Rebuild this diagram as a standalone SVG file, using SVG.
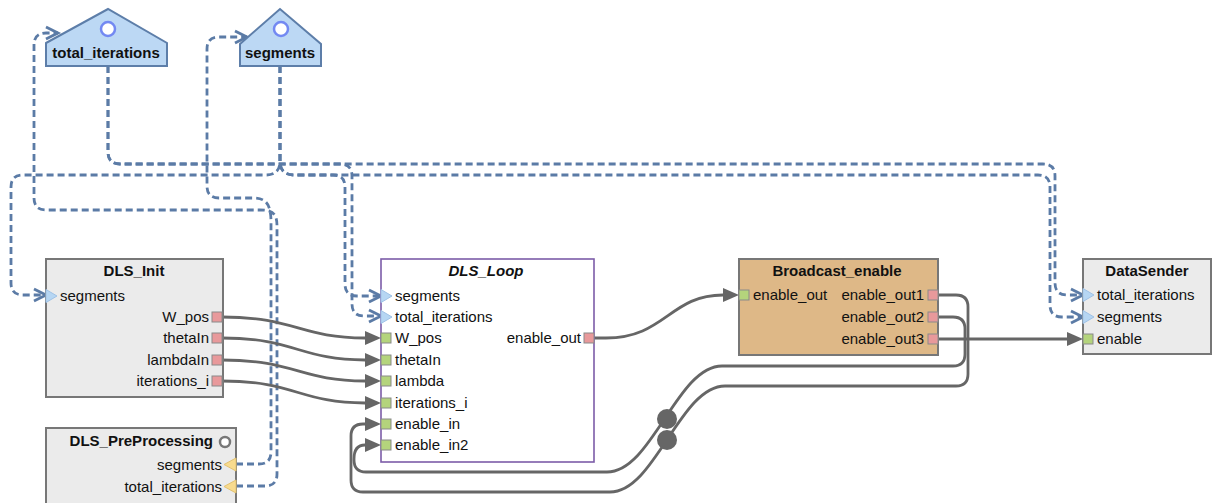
<svg xmlns="http://www.w3.org/2000/svg" width="1213" height="503" viewBox="0 0 1213 503">
<style>
text{font-family:"Liberation Sans",Arial,sans-serif;font-size:15px;fill:#111}
.title{font-weight:bold}
.box{fill:#ebebeb;stroke:#777;stroke-width:2}
.param{fill:#bcd8f4;stroke:#5d7ea9;stroke-width:2}
.pin{fill:#fff;stroke:#7389f2;stroke-width:2.5}
.dash{fill:none;stroke:#5b7ba6;stroke-width:2.8;stroke-dasharray:7 4;marker-end:url(#chev)}
.solid{fill:none;stroke:#666;stroke-width:2.8;marker-end:url(#tri)}
.ip{fill:#b4d47c;stroke:#8a8a8a;stroke-width:1}
.op{fill:#e8999b;stroke:#8a8a8a;stroke-width:1}
.tp{fill:#b6d6f3;stroke:#9fc2e6;stroke-width:1}
.yp{fill:#f8db8e;stroke:#e2c272;stroke-width:1}
.r{text-anchor:end}
.c{text-anchor:middle}
</style>
<defs>
<marker id="tri" markerUnits="userSpaceOnUse" markerWidth="17" markerHeight="15" refX="0" refY="7" orient="auto" overflow="visible">
<path d="M0,0 L16,7 L0,14 z" fill="#666"/>
</marker>
<marker id="chev" markerUnits="userSpaceOnUse" markerWidth="16" markerHeight="16" refX="13" refY="7" orient="auto" overflow="visible">
<path d="M1,1 L13,7 L1,13" fill="none" stroke="#5b7ba6" stroke-width="2.8" stroke-dasharray="none"/>
</marker>
</defs>

<g id="connectors">
<path class="dash" d="M108,66 V152 Q108,164 120,164 H340 Q352,164 352,176 V304 Q352,316 364,316 H381"/>
<path class="dash" d="M108,66 V152 Q108,164 120,164 H1043 Q1055,164 1055,176 V283 Q1055,295 1067,295 H1083"/>
<path class="dash" d="M280,66 V161 Q280,175 266,175 H23 Q11,175 11,187 V283 Q11,295 23,295 H46"/>
<path class="dash" d="M280,66 V161 Q280,175 294,175 H333 Q345,175 345,187 V284 Q345,296 357,296 H381"/>
<path class="dash" d="M280,66 V161 Q280,175 294,175 H1038 Q1050,175 1050,187 V305 Q1050,317 1062,317 H1083"/>
<path class="dash" d="M236,464 H259 Q271,464 271,452 V222 C271,206 267,198 254,198 H219 Q207,198 207,186 V49 Q207,37 219,37 H247"/>
<path class="dash" d="M236,486 H265 Q277,486 277,474 V226 C277,214 273,210 260,210 H46 Q34,210 34,198 V45 Q34,33 46,33 H58"/>

<path class="solid" d="M222,317 C295,317 300,338 365,338"/>
<path class="solid" d="M222,338 C295,338 300,360 365,360"/>
<path class="solid" d="M222,360 C295,360 300,381 365,381"/>
<path class="solid" d="M222,381 C295,381 300,403 365,403"/>
<path class="solid" d="M594,338 H606 C665,338 670,295 723,295"/>
<path class="solid" d="M938,339 H1067"/>
<path class="solid" d="M938,295 H956 Q968,295 968,307 V374 Q968,386 956,386 H725 C680,386 655,492 610,492 H363 Q351,492 351,480 V436 Q351,424 363,424 H365"/>
<path class="solid" d="M938,317 H953 Q965,317 965,329 V354 Q965,366 953,366 H722 C677,366 652,472 607,472 H366 Q354,472 354,460 V459 Q354,445 365,445"/>
<circle cx="667" cy="419" r="10" fill="#666"/>
<circle cx="667" cy="440" r="10" fill="#666"/>
</g>

<g id="param_total_iterations">
<path class="param" d="M46,43 L108,9 L167,43 L167,66 L46,66 z"/>
<circle class="pin" cx="108" cy="29" r="7"/>
<text class="title c" x="106" y="58">total_iterations</text>
</g>

<g id="param_segments">
<path class="param" d="M240,44 L280,9 L321,44 L321,66 L240,66 z"/>
<circle class="pin" cx="281" cy="29" r="7"/>
<text class="title c" x="280" y="58">segments</text>
</g>

<g id="DLS_Init">
<rect class="box" x="46" y="259" width="177" height="138"/>
<text class="title c" x="134" y="276">DLS_Init</text>
<path class="tp" d="M46,289.5 L57,296 L46,302.5 z"/>
<text x="60" y="301">segments</text>
<rect class="op" x="212" y="312" width="10" height="10"/>
<text class="r" x="209" y="322">W_pos</text>
<rect class="op" x="212" y="333" width="10" height="10"/>
<text class="r" x="209" y="343">thetaIn</text>
<rect class="op" x="212" y="355" width="10" height="10"/>
<text class="r" x="209" y="365">lambdaIn</text>
<rect class="op" x="212" y="376" width="10" height="10"/>
<text class="r" x="209" y="386">iterations_i</text>
</g>

<g id="DLS_PreProcessing">
<rect class="box" x="46" y="428" width="190" height="90"/>
<text class="title r" x="213" y="446">DLS_PreProcessing</text>
<circle cx="225" cy="442" r="5" fill="#fff" stroke="#777" stroke-width="2.5"/>
<path class="yp" d="M236,458 L224,464.5 L236,471 z"/>
<text class="r" x="222" y="470">segments</text>
<path class="yp" d="M236,480 L224,486.5 L236,493 z"/>
<text class="r" x="222" y="492">total_iterations</text>
</g>

<g id="DLS_Loop">
<rect x="381" y="259" width="213" height="203" fill="#fff" stroke="#7c5ca8" stroke-width="1.6"/>
<text class="title c" x="486" y="276" font-style="italic">DLS_Loop</text>
<path class="tp" d="M381,289.5 L392,296 L381,302.5 z"/>
<text x="395" y="301">segments</text>
<path class="tp" d="M381,310.5 L392,317 L381,323.5 z"/>
<text x="395" y="322">total_iterations</text>
<rect class="ip" x="381" y="333" width="10" height="10"/>
<text x="395" y="343">W_pos</text>
<rect class="ip" x="381" y="355" width="10" height="10"/>
<text x="395" y="365">thetaIn</text>
<rect class="ip" x="381" y="376" width="10" height="10"/>
<text x="395" y="386">lambda</text>
<rect class="ip" x="381" y="398" width="10" height="10"/>
<text x="395" y="408">iterations_i</text>
<rect class="ip" x="381" y="419" width="10" height="10"/>
<text x="395" y="429">enable_in</text>
<rect class="ip" x="381" y="440" width="10" height="10"/>
<text x="395" y="450">enable_in2</text>
<rect class="op" x="584" y="333" width="10" height="10"/>
<text class="r" x="581" y="343">enable_out</text>
</g>

<g id="Broadcast_enable">
<rect x="739" y="259" width="199" height="96" fill="#deb887" stroke="#777" stroke-width="2"/>
<text class="title c" x="837" y="276">Broadcast_enable</text>
<rect class="ip" x="739" y="290" width="10" height="10"/>
<text x="753" y="300">enable_out</text>
<rect class="op" x="928" y="290" width="10" height="10"/>
<text class="r" x="924" y="300">enable_out1</text>
<rect class="op" x="928" y="312" width="10" height="10"/>
<text class="r" x="924" y="322">enable_out2</text>
<rect class="op" x="928" y="334" width="10" height="10"/>
<text class="r" x="924" y="344">enable_out3</text>
</g>

<g id="DataSender">
<rect class="box" x="1083" y="259" width="128" height="95"/>
<text class="title c" x="1147" y="276">DataSender</text>
<path class="tp" d="M1083,288.5 L1094,295 L1083,301.5 z"/>
<text x="1097" y="300">total_iterations</text>
<path class="tp" d="M1083,310.5 L1094,317 L1083,323.5 z"/>
<text x="1097" y="322">segments</text>
<rect class="ip" x="1083" y="334" width="10" height="10"/>
<text x="1097" y="344">enable</text>
</g>
</svg>
